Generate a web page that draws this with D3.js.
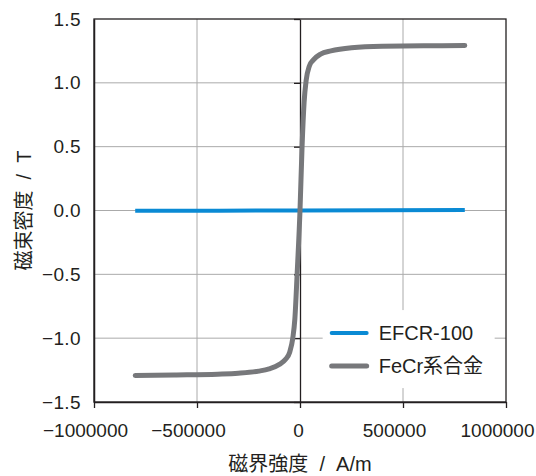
<!DOCTYPE html>
<html>
<head>
<meta charset="utf-8">
<script src="https://cdn.jsdelivr.net/npm/d3@7"></script>
<style>
  body { margin: 0; background: #fff; }
  text { font-family: "Liberation Sans", Arial, "Noto Sans CJK JP", sans-serif; fill: #231f20; }
</style>
</head>
<body>
<div id="chart"></div>
<script>
// magnetic field H (A/m) and flux density B (T)
const efcrH = [-800000, 0, 800000];
const efcrB = [-0.002, 0.0, 0.003];

const fecrH = [-800000, -600000, -400000, -300000, -200000, -150000, -100000, -70000, -50000, -35000, -25000, -14000,
    0, 10000, 20000, 30000, 45000, 65000, 100000, 150000, 250000, 400000, 600000, 800000];
const fecrB = [-1.292, -1.288, -1.282, -1.275, -1.258, -1.24, -1.205, -1.165, -1.11, -1.0, -0.85, -0.5,
    0.0, 0.5, 0.85, 1.02, 1.13, 1.18, 1.225, 1.25, 1.275, 1.287, 1.29, 1.292];

const xTicks = [-1000000, -500000, 0, 500000, 1000000];
const yTicks = [-1.5, -1.0, -0.5, 0.0, 0.5, 1.0, 1.5];

const seriesNames = ["EFCR-100", "FeCr系合金"];
const seriesColors = ["#0a8ad4", "#77787b"];

let margin = {left: 94, right: 30, top: 19, bottom: 74};
let width = 536 - margin.left - margin.right,
    height = 476 - margin.top - margin.bottom;

let svg = d3.select("#chart")
    .append("svg")
    .attr("width", 536)
    .attr("height", 476);

let g = svg.append("g")
    .attr("transform", "translate(" + margin.left + "," + margin.top + ")");

let x = d3.scaleLinear().domain([-1000000, 1000000]).range([0, width]);
let y = d3.scaleLinear().domain([-1.5, 1.5]).range([height, 0]);

// grid
g.append("g").selectAll("line")
    .data(xTicks.filter(d => d !== 0 && Math.abs(d) < 1000000))
    .enter().append("line")
    .attr("x1", d => x(d)).attr("x2", d => x(d))
    .attr("y1", 0).attr("y2", height)
    .attr("stroke", "#aaaaaa").attr("stroke-width", 1);

g.append("g").selectAll("line")
    .data(yTicks.filter(d => Math.abs(d) < 1.5))
    .enter().append("line")
    .attr("x1", 0).attr("x2", width)
    .attr("y1", d => y(d)).attr("y2", d => y(d))
    .attr("stroke", "#aaaaaa").attr("stroke-width", 1);

// vertical axis through zero, ticks pointing left
let zeroAxis = g.append("g")
    .attr("transform", "translate(" + x(0) + ",0)")
    .call(d3.axisLeft(y).tickValues(yTicks).tickSize(6).tickSizeOuter(0).tickFormat(""));
zeroAxis.selectAll("line, path").attr("stroke", "#231f20").attr("stroke-width", 1.3);

// frame
g.append("rect")
    .attr("width", width).attr("height", height)
    .attr("fill", "none")
    .attr("stroke", "#231f20").attr("stroke-width", 1.3);

// bottom axis
let xAxis = g.append("g")
    .attr("transform", "translate(0," + height + ")")
    .call(d3.axisBottom(x).tickValues(xTicks).tickSize(6).tickSizeOuter(0).tickFormat(d3.format("d")));
xAxis.select(".domain").attr("stroke", "#231f20").attr("stroke-width", 1.5);
xAxis.selectAll(".tick line").attr("stroke", "#231f20").attr("stroke-width", 1.3);
xAxis.selectAll("text")
    .attr("y", 22)
    .attr("dx", d => d === 0 ? -2 : -9)
    .attr("font-size", "19px")
    .attr("font-family", "Liberation Sans, Arial, sans-serif")
    .attr("fill", "#231f20");

// left labels
let yAxis = g.append("g")
    .call(d3.axisLeft(y).tickValues(yTicks).tickSize(0).tickPadding(13).tickFormat(d3.format(".1f")));
yAxis.select(".domain").attr("stroke", "#231f20").attr("stroke-width", 1.5);
yAxis.selectAll("text")
    .attr("font-size", "19px")
    .attr("letter-spacing", "0.4px")
    .attr("font-family", "Liberation Sans, Arial, sans-serif")
    .attr("fill", "#231f20");

// curves
let line = d3.line()
    .x(d => x(d[0]))
    .y(d => y(d[1]))
    .curve(d3.curveMonotoneX);

g.append("path")
    .datum(efcrH.map((h, i) => [h, efcrB[i]]))
    .attr("d", line)
    .attr("fill", "none")
    .attr("stroke", seriesColors[0])
    .attr("stroke-width", 4);

g.append("path")
    .datum(fecrH.map((h, i) => [h, fecrB[i]]))
    .attr("d", line)
    .attr("fill", "none")
    .attr("stroke", seriesColors[1])
    .attr("stroke-width", 5)
    .attr("stroke-linecap", "round")
    .attr("stroke-linejoin", "round");

// legend
let legend = g.append("g")
    .attr("transform", "translate(" + (x(110000)) + "," + (y(-0.78)) + ")");

legend.append("rect")
    .attr("width", 172).attr("height", 78)
    .attr("fill", "#fff");

let items = legend.selectAll(".item")
    .data(seriesNames)
    .enter().append("g")
    .attr("transform", (d, i) => "translate(0," + (23 + i * 33) + ")");

items.append("line")
    .attr("x1", 9).attr("x2", 44)
    .attr("stroke", (d, i) => seriesColors[i])
    .attr("stroke-width", (d, i) => i === 0 ? 4 : 5)
    .attr("stroke-linecap", "round");

items.append("text")
    .attr("x", 56)
    .attr("dy", "0.35em")
    .attr("font-size", "20px")
    .text(d => d);

// axis titles
svg.append("text")
    .attr("x", margin.left + x(0))
    .attr("y", 471)
    .attr("text-anchor", "middle")
    .attr("font-size", "20px")
    .attr("xml:space", "preserve")
    .text("磁界強度  /  A/m");

svg.append("text")
    .attr("transform", "rotate(-90)")
    .attr("x", -(margin.top + height / 2))
    .attr("y", 31)
    .attr("text-anchor", "middle")
    .attr("font-size", "20px")
    .attr("xml:space", "preserve")
    .text("磁束密度  /  T");
</script>
</body>
</html>
